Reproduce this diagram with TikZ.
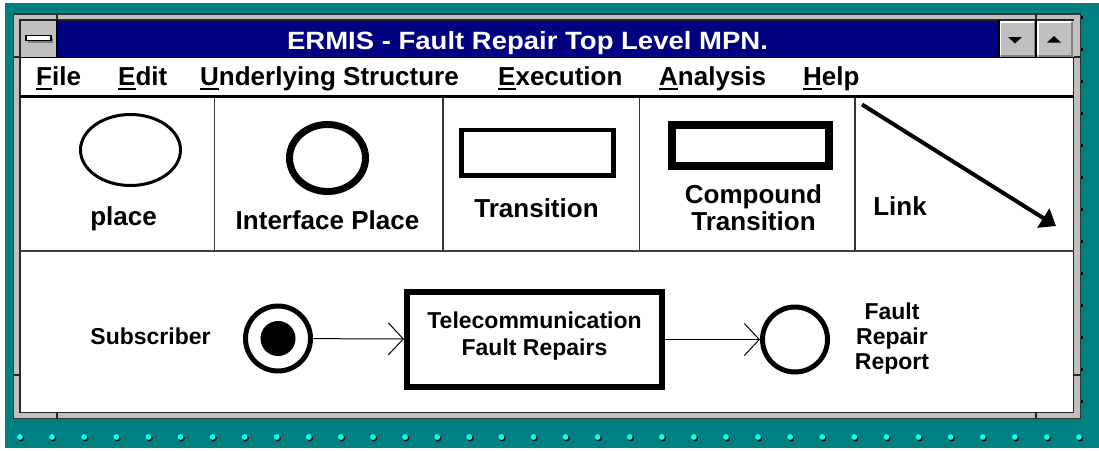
\documentclass[tikz,border=0pt]{standalone}
\usepackage{fontspec}
\setmainfont{Liberation Sans}
\newfontfamily\titlefont[FakeStretch=1.1]{Liberation Sans}
\usetikzlibrary{arrows.meta,shapes.geometric}

\definecolor{deskteal}{RGB}{0,128,128}
\definecolor{titlenavy}{RGB}{0,0,128}
\definecolor{wingray}{RGB}{192,192,192}
\definecolor{windark}{RGB}{128,128,128}
\definecolor{dotcyan}{RGB}{0,255,255}

% underlined access key of a menu entry
\newcommand\acckey[1]{\setbox0\hbox{#1}\rlap{\rule[-5pt]{\wd0}{2.5pt}}\box0}

\tikzset{
  menuitem/.style={anchor=base west, inner sep=0pt,
    font=\bfseries\fontsize{26}{30}\selectfont},
  tblabel/.style={anchor=base, inner sep=0pt,
    font=\bfseries\fontsize{26}{27}\selectfont},
  netlabel/.style={inner sep=0pt, align=center,
    font=\bfseries\fontsize{23}{25}\selectfont},
  sepline/.style={black!80, line width=1.5pt},
  plainplace/.style={ellipse, draw, line width=3pt, inner sep=0pt},
  ifplace/.style={circle, draw, line width=5pt, minimum size=65pt, inner sep=0pt},
  tokendot/.style={circle, fill=black, minimum size=35pt, inner sep=0pt},
  transbox/.style={rectangle, draw, inner sep=0pt},
  compbox/.style={rectangle, draw, line width=6pt, minimum width=255pt,
    minimum height=95pt, align=center,
    font=\bfseries\fontsize{23}{27}\selectfont},
  arcline/.style={line width=1pt, -{Straight Barb[length=15pt,width=32pt,line width=1pt]}},
  linkline/.style={line width=4pt, -{Triangle[length=15pt,width=22pt]}},
  bevellight/.style={white, line width=1.5pt},
  beveldark/.style={windark, line width=2pt},
}

\begin{document}
\begin{tikzpicture}[x=1pt,y=-1pt]
\useasboundingbox (0,0) rectangle (1099,450);
\fill[white] (0,0) rectangle (1099,450);
\fill[deskteal] (5,3) rectangle (1099,448);

% desktop pattern: row of studs along the bottom, shadows at the right
\foreach \i in {0,...,33} {
  \fill[black] ({21.2+32.09*\i},438.2) circle (3.2);
  \fill[dotcyan] ({20+32.09*\i},437) circle (2.9);
}
\foreach \k in {0,...,12}
  \fill[black] (1080.5,{17+32.08*\k-1.5}) rectangle (1083,{17+32.08*\k+1.5});

% window frame
\filldraw[fill=wingray, draw=black!80, line width=1.5pt] (13.5,14) rectangle (1080.5,418.5);
\filldraw[fill=white, draw=black!85, line width=1.5pt] (19.8,19.8) rectangle (1073.5,412.5);
\draw[black!85, line width=1.2pt]
  (57,14) -- (57,19.8) (57,412.5) -- (57,418.5)
  (1036,14) -- (1036,19.8) (1036,412.5) -- (1036,418.5)
  (13.5,57) -- (19.8,57) (1073.5,57) -- (1080.5,57)
  (13.5,375) -- (19.8,375) (1073.5,375) -- (1080.5,375);

% title bar
\fill[titlenavy] (57,20.5) rectangle (999,57);
\node[anchor=base, inner sep=0pt, text=white,
  font=\titlefont\bfseries\fontsize{25}{30}\selectfont] (title) at (527.5,49)
  {ERMIS - Fault Repair Top Level MPN.};

% control-menu box
\fill[wingray] (20.5,20.5) rectangle (57,57);
\fill[windark] (27.5,37.5) rectangle (52.5,42.5);
\filldraw[fill=white, draw=black, line width=1.2pt] (26,35.5) rectangle (51,40.5);

% minimize / maximize buttons
\fill[wingray] (999,20.5) rectangle (1073.5,57);
\foreach \bx in {999,1036.5} {
  \draw[bevellight] (\bx+1.5,55) -- (\bx+1.5,22) -- (\bx+35,22);
  \draw[beveldark] (\bx+2,55.5) -- (\bx+35.5,55.5) -- (\bx+35.5,22);
}
\fill[black] (1008,37) -- (1022,37) -- (1015,43.5) -- cycle;
\fill[black] (1047,42.5) -- (1061,42.5) -- (1054,36) -- cycle;
\draw[black, line width=1.5pt] (57,20) -- (57,57) (999,20) -- (999,57) (1036,20) -- (1036,57);
\draw[black, line width=1.5pt] (20,57.5) -- (1073.5,57.5);

% menu bar
\node[menuitem] (mfile) at (36,85) {\acckey{F}ile};
\node[menuitem] (medit) at (118,85) {\acckey{E}dit};
\node[menuitem] (mstruct) at (200,85) {\acckey{U}nderlying Structure};
\node[menuitem] (mexec) at (498,85) {\acckey{E}xecution};
\node[menuitem] (manal) at (659,85) {\acckey{A}nalysis};
\node[menuitem] (mhelp) at (803,85) {\acckey{H}elp};
\draw[black, line width=3pt] (20,96.5) -- (1073.5,96.5);

% tool palette
\draw[sepline] (214.5,98) -- (214.5,250) (443,98) -- (443,250)
  (639.5,98) -- (639.5,250) (855,98) -- (855,250);
\draw[black!75, line width=2pt] (20,250.5) -- (1073.5,250.5);

\node[plainplace, minimum width=100pt, minimum height=71pt] (tbplace) at (130.5,150) {};
\node[tblabel] (lplace) at (123.5,225) {place};

\node[plainplace, line width=7pt, minimum width=76pt, minimum height=67pt] (tbiface) at (327.5,158) {};
\node[tblabel] (liface) at (327.5,229) {Interface Place};

\node[transbox, line width=4.5pt, minimum width=152pt, minimum height=45.5pt] (tbtrans) at (537.7,152.7) {};
\node[tblabel] (ltrans) at (536.5,217) {Transition};

\node[transbox, line width=8pt, minimum width=156.4pt, minimum height=41pt] (tbcomp) at (750.5,145.5) {};
\node[tblabel] (lcomp1) at (753.5,203) {Compound};
\node[tblabel] (lcomp2) at (753.5,230) {Transition};

\node[tblabel] (llink) at (900,215) {Link};
\coordinate (linkfrom) at (862,104.5);
\coordinate (linkto) at (1056,226);
\draw[linkline] (linkfrom) -- (linkto);

% net: Subscriber -> Telecommunication Fault Repairs -> Fault Repair Report
\node[netlabel, anchor=base] (subslabel) at (150.5,344) {Subscriber};
\node[ifplace] (subs) at (278,338.5) {};
\node[tokendot] (token) at (subs.center) {};
\node[compbox] (repair) at (534.5,339.5) {Telecommunication\\Fault Repairs\rule[-12pt]{0pt}{12pt}};
\node[ifplace] (report) at (795,339.5) {};
\node[netlabel] (reportlabel) at (892,339) {Fault\\Repair\\Report};

\draw[arcline] (subs) -- (repair);
\draw[arcline] (repair) -- (report);
\end{tikzpicture}
\end{document}
